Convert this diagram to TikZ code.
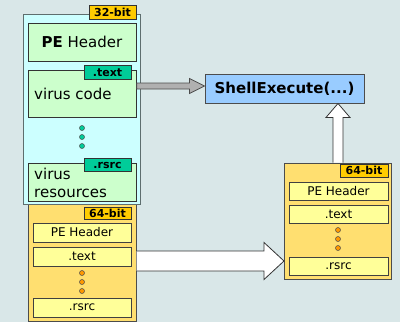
\documentclass[tikz,border=0pt]{standalone}
\usepackage{fontspec}
\setmainfont{DejaVu Sans}
\usetikzlibrary{calc}

\definecolor{bgcol}{HTML}{D9E7E8}
\definecolor{cyanfill}{HTML}{CCFFFF}
\definecolor{greenfill}{HTML}{CCFFCC}
\definecolor{goldtag}{HTML}{FFCC00}
\definecolor{tealtag}{HTML}{00CC99}
\definecolor{sandfill}{HTML}{FFDF70}
\definecolor{paleyellow}{HTML}{FFFF99}
\definecolor{skyfill}{HTML}{99CCFF}
\definecolor{arrowgray}{HTML}{B0B0B0}
\definecolor{orangedot}{HTML}{FF9900}
\definecolor{framegray}{HTML}{5E6E6E}

\tikzset{
  rect/.style={draw, inner sep=0pt, outer sep=0pt, minimum width=#1},
  outer32/.style={draw=framegray, line width=1pt, fill=cyanfill, rect=117pt, minimum height=190pt},
  outer64/.style={draw=black!70, line width=1pt, fill=sandfill, inner sep=0pt, outer sep=0pt},
  greenbox/.style={draw=black!80, line width=0.9pt, fill=greenfill, rect=108pt},
  yellowbox/.style={draw=black!75, line width=0.8pt, fill=paleyellow, inner sep=0pt, outer sep=0pt,
    font=\fontsize{12}{14}\selectfont},
  bittag/.style={draw=black!80, line width=0.8pt, fill=goldtag, rect=47pt, minimum height=#1,
    font=\bfseries\fontsize{11}{12}\selectfont},
  sectag/.style={draw=black!80, line width=0.8pt, fill=tealtag, rect=47pt, minimum height=13.5pt,
    font=\bfseries\fontsize{11}{12}\selectfont},
  bigtext/.style={inner sep=0pt, font=\fontsize{15}{18}\selectfont},
  tealdot/.style={circle, draw=black!70, line width=0.5pt, fill=tealtag, minimum size=5pt, inner sep=0pt},
  orangedots/.style={circle, draw=black!70, line width=0.5pt, fill=orangedot, minimum size=5pt, inner sep=0pt},
  grayarrow/.style={draw=black!70, line width=0.8pt, fill=arrowgray},
  whitearrow/.style={draw=black!80, line width=0.8pt, fill=white},
}

\begin{document}
\begin{tikzpicture}[x=1pt, y=-1pt]
  \useasboundingbox (0,0) rectangle (400,322);
  \fill[bgcol] (0,0) rectangle (400,322);

  % 64-bit image carried inside the 32-bit file (partly hidden behind it)
  \node[outer64, minimum width=108pt, minimum height=131pt] (l64) at (82,255.5) {};
  \node[bittag=12pt] (l64tag) at (107.5,213) {64-bit};
  \node[yellowbox, minimum width=98pt, minimum height=19pt] (lpe) at (82,232.5) {PE Header};
  \node[yellowbox, minimum width=98pt, minimum height=19pt] (ltext) at (82,256.5) {.text};
  \node[orangedots] (ld1) at (82,273) {};
  \node[orangedots] (ld2) at (82,282) {};
  \node[orangedots] (ld3) at (82,291) {};
  \node[yellowbox, minimum width=98pt, minimum height=19pt] (lrsrc) at (82,307.5) {.rsrc};

  % 32-bit host file
  \node[outer32] (h32) at (81.5,109) {};
  \node[bittag=14pt] (h32tag) at (112.5,12) {32-bit};
  \node[greenbox, minimum height=38pt, font=\fontsize{15}{18}\selectfont] (hpe) at (82,42)
    {\textbf{PE} Header};
  \node[greenbox, minimum height=47pt] (vcode) at (82,93.5) {};
  \node[sectag] (vcodetag) at (107.5,72.5) {.text};
  \node[bigtext, anchor=west] (vcodetxt) at ($(vcode.west)+(6,0)$) {virus code};
  \node[tealdot] (hd1) at (82,128) {};
  \node[tealdot] (hd2) at (82,137) {};
  \node[tealdot] (hd3) at (82,146) {};
  \node[greenbox, minimum height=38pt] (vres) at (82,182) {};
  \node[sectag] (vrestag) at (107.5,165) {.rsrc};
  \node[bigtext, anchor=west, align=left] (vrestxt) at ($(vres.west)+(6,1)$) {virus\\resources};

  % API call
  \node[draw=black!70, line width=0.9pt, fill=skyfill, minimum width=159pt, minimum height=29pt,
        inner sep=0pt, font=\bfseries\fontsize{15}{18}\selectfont] (shell) at (284.5,88.5) {ShellExecute(...)};

  % dropped 64-bit file
  \node[outer64, minimum width=107pt, minimum height=116pt] (r64) at (337.5,221) {};
  \node[bittag=13pt, minimum width=48pt] (r64tag) at (364,170.5) {64-bit};
  \node[yellowbox, minimum width=99pt, minimum height=18pt] (rpe) at (338.5,191) {PE Header};
  \node[yellowbox, minimum width=99pt, minimum height=18pt] (rtext) at (338.5,214) {.text};
  \node[orangedots] (rd1) at (338,230) {};
  \node[orangedots] (rd2) at (338,239) {};
  \node[orangedots] (rd3) at (338,248) {};
  \node[yellowbox, minimum width=99pt, minimum height=18pt] (rrsrc) at (338.5,266) {.rsrc};

  % virus code calls ShellExecute
  \coordinate (gtip) at ($(shell.west)+(0,-2.5)$);
  \coordinate (gtail) at (vcode.east |- gtip);
  \draw[grayarrow] ($(gtail)+(0.8,-3)$) -- ($(gtip)+(-15,-3)$) -- ($(gtip)+(-15,-7.5)$) -- (gtip)
    -- ($(gtip)+(-15,7.5)$) -- ($(gtip)+(-15,3)$) -- ($(gtail)+(0.8,3)$) -- cycle;

  % embedded image is written out as a separate file
  \coordinate (wtip) at (r64.west |- 0,261);
  \coordinate (wtail) at (l64.east |- wtip);
  \draw[whitearrow] ($(wtail)+(0.5,-10)$) -- ($(wtip)+(-20,-10)$) -- ($(wtip)+(-20,-18.5)$) -- (wtip)
    -- ($(wtip)+(-20,18.5)$) -- ($(wtip)+(-20,10)$) -- ($(wtail)+(0.5,10)$);

  % the 64-bit file is launched
  \coordinate (utail) at ($(r64.north)+(0.5,-0.5)$);
  \coordinate (utip) at (utail |- shell.south);
  \draw[whitearrow] ($(utail)+(-5,0)$) -- ($(utip)+(-5,14)$) -- ($(utip)+(-12,14)$) -- (utip)
    -- ($(utip)+(12,14)$) -- ($(utip)+(5,14)$) -- ($(utail)+(5,0)$);
\end{tikzpicture}
\end{document}
